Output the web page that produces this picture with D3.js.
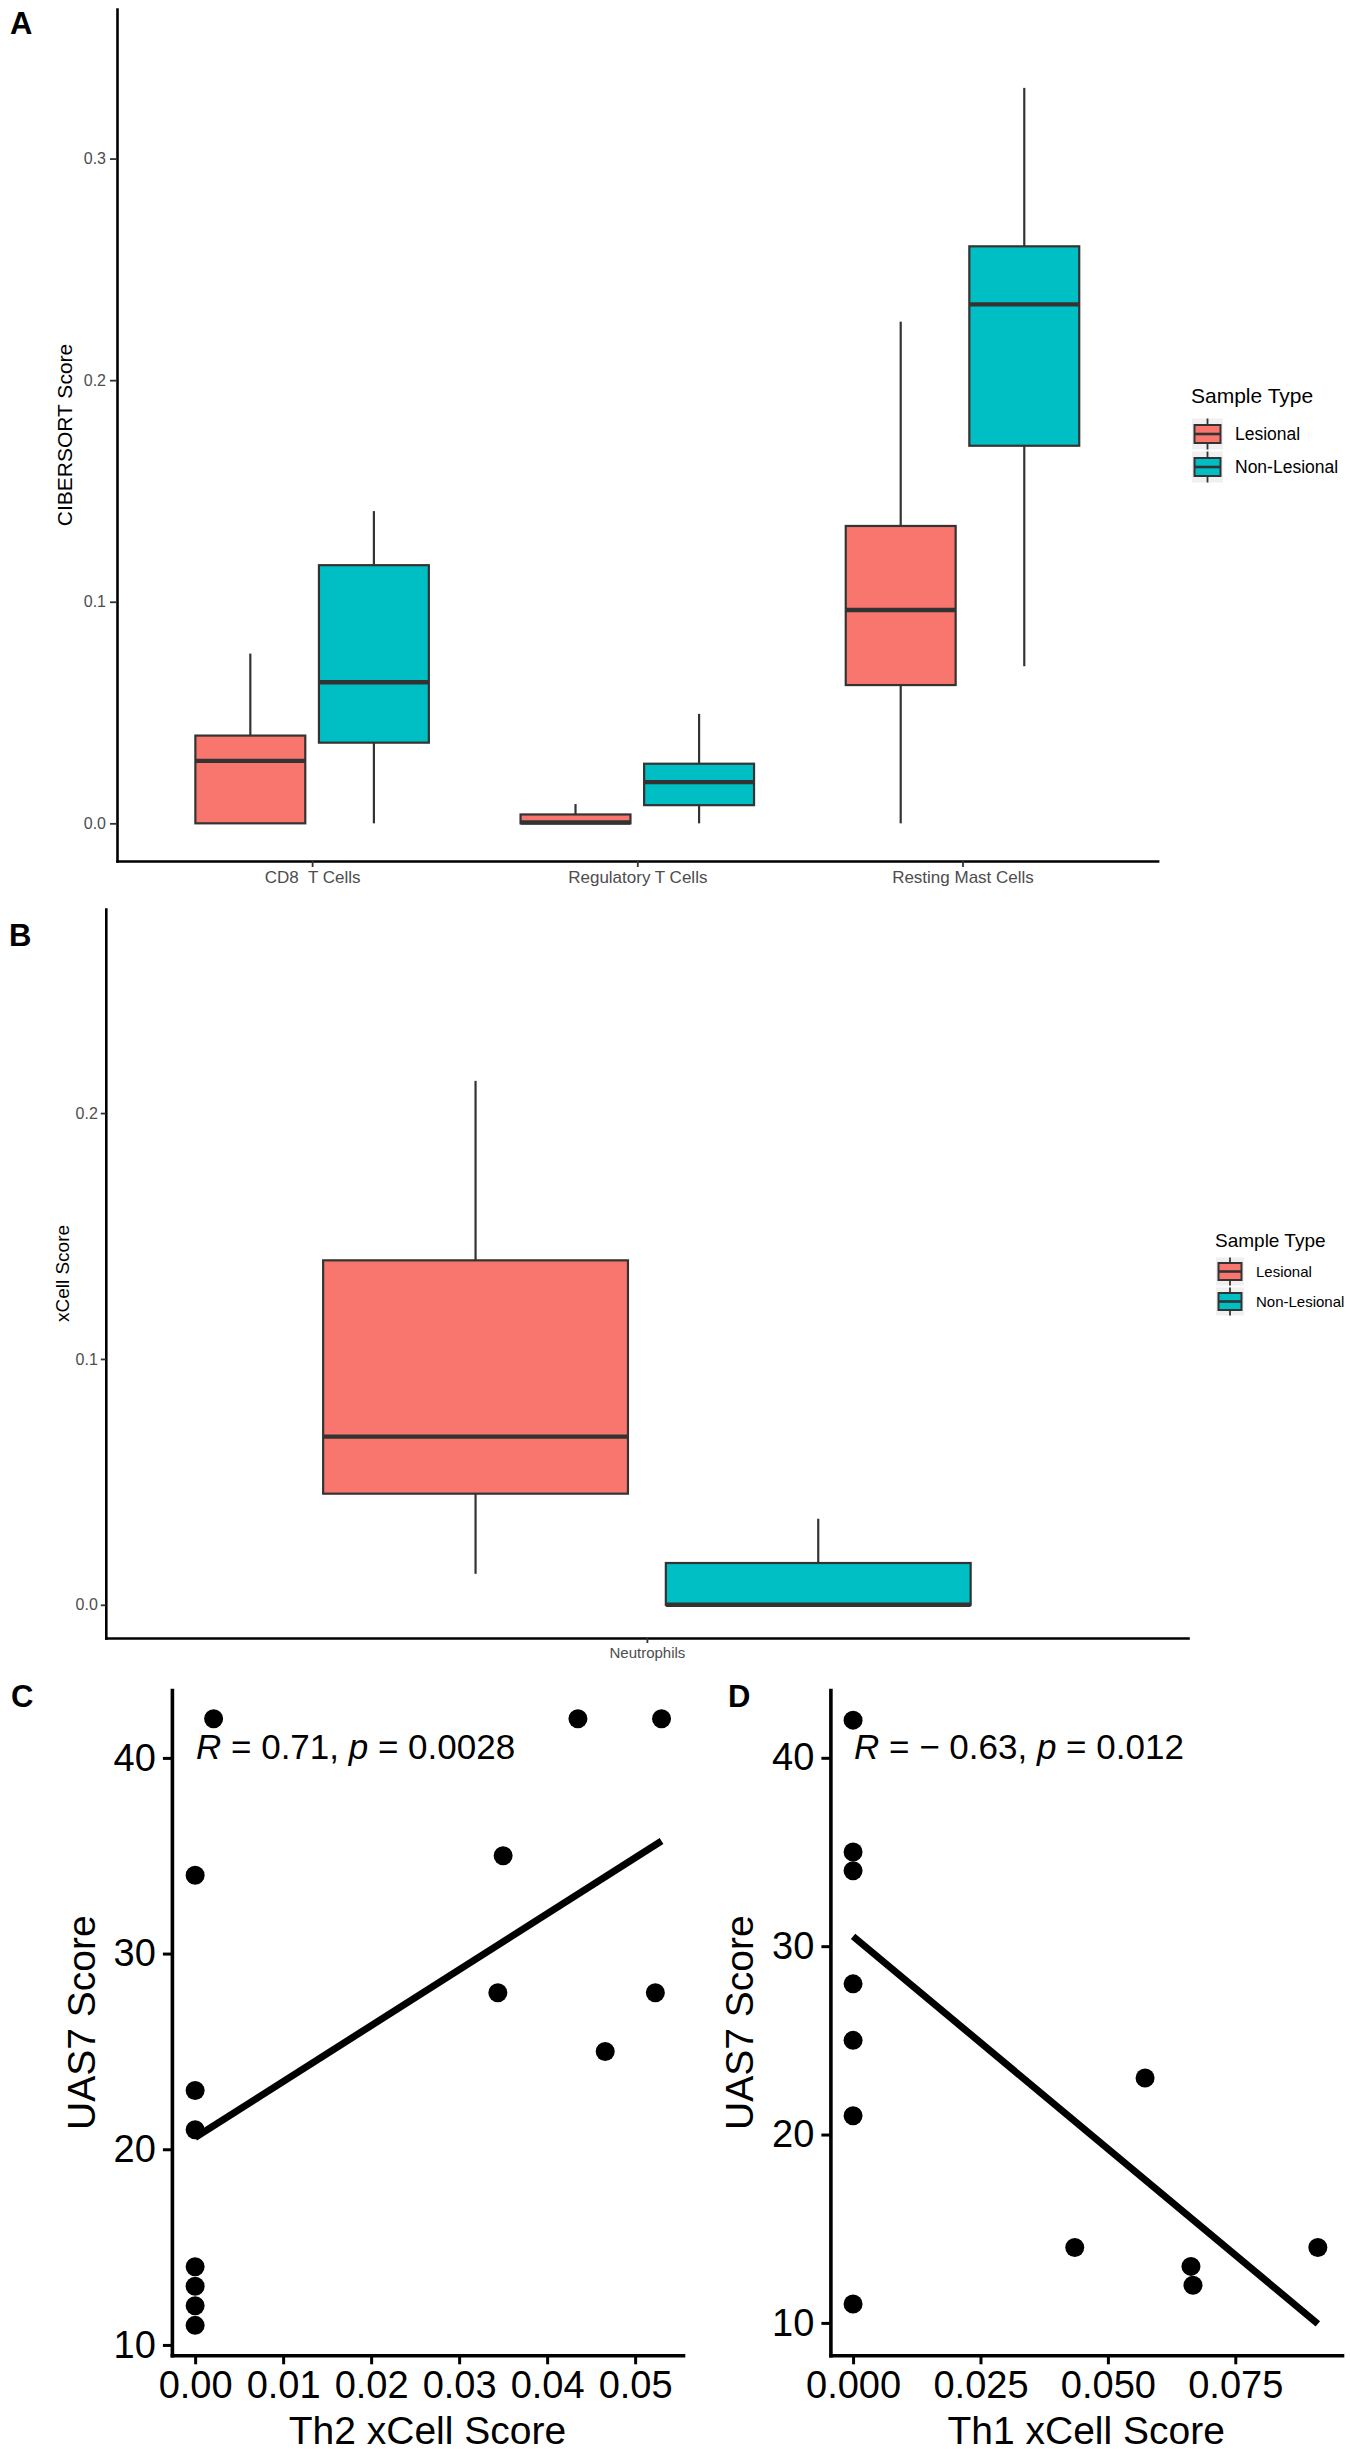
<!DOCTYPE html>
<html>
<head>
<meta charset="utf-8">
<script src="https://cdn.jsdelivr.net/npm/d3@7"></script>
<style>
  body { margin: 0; background: #fff; }
  text { font-family: "Liberation Sans", Arial, Helvetica, sans-serif; }
</style>
</head>
<body>
<div id="chart"></div>
<script>
// ---- data ----
const sampleTypes = ["Lesional", "Non-Lesional"];
const sampleColors = ["#F8766D", "#00BFC4"];

// panel A: CIBERSORT, box stats as [min, q1, median, q3, max]
const cellTypesA = ["CD8  T Cells", "Regulatory T Cells", "Resting Mast Cells"];
const lesionalA = [
  [0, 0, 0.0282, 0.0396, 0.0766],
  [0, 0, 0.0004, 0.0040, 0.0087],
  [0, 0.0624, 0.0963, 0.1342, 0.2264]
];
const nonLesionalA = [
  [0, 0.0364, 0.0637, 0.1165, 0.1409],
  [0, 0.0082, 0.0186, 0.0269, 0.0494],
  [0.0709, 0.1704, 0.2342, 0.2604, 0.3319]
];
const ticksA = [0, 0.1, 0.2, 0.3];
const yDomainA = [-0.017, 0.3675];

// panel B: xCell neutrophils
const cellTypesB = ["Neutrophils"];
const lesionalB = [[0.0126, 0.0452, 0.0684, 0.1401, 0.2131]];
const nonLesionalB = [[0, 0, 0, 0.0170, 0.0350]];
const ticksB = [0, 0.1, 0.2];
const yDomainB = [-0.0135, 0.283];

// panel C: Th2 xCell score vs UAS7
const th2Score = [0.0021, 0.0435, 0.0530, 0, 0.0350, 0.0344, 0.0523, 0.0466, 0, 0, 0, 0, 0, 0];
const th2Uas7 = [42, 42, 42, 34, 35, 28, 28, 25, 23, 21, 14, 13, 12, 11];
const th2Fit = [[0, 20.6], [0.053, 35.75]];
const ticksCx = [0, 0.01, 0.02, 0.03, 0.04, 0.05];
const xDomainC = [-0.00264, 0.05544];
const yDomainC = [9.47, 43.47];

// panel D: Th1 xCell score vs UAS7
const th1Score = [0, 0, 0, 0, 0, 0, 0, 0.0573, 0.0435, 0.0663, 0.0667, 0.0912];
const th1Uas7 = [42, 35, 34, 28, 25, 21, 11, 23, 14, 13, 12, 14];
const th1Fit = [[0, 30.52], [0.0912, 9.95]];
const ticksDx = [0, 0.025, 0.05, 0.075];
const xDomainD = [-0.00445, 0.09594];
const yDomainD = [8.28, 43.6];

const ticksUas7 = [10, 20, 30, 40];

// ---- drawing ----
const svg = d3.select("#chart").append("svg")
  .attr("width", 1350).attr("height", 2456);

function styleAxis(g, o) {
  g.select(".domain").attr("stroke", "#000").attr("stroke-width", o.axisW)
    .attr("stroke-linecap", "square");
  g.selectAll(".tick line").attr("stroke", o.tickColor).attr("stroke-width", o.tickW);
  g.selectAll(".tick text").attr("fill", o.textColor)
    .style("font-size", o.fontSize + "px");
}

function panelLabel(txt, x, y) {
  svg.append("text").attr("x", x).attr("y", y).text(txt)
    .style("font-size", "31px").style("font-weight", "bold");
}

function drawBoxPanel(p) {
  const x = d3.scalePoint().domain(p.cats).range([p.left, p.right]).padding(0.6);
  const step = x.step();
  const y = d3.scaleLinear().domain(p.yDomain).range([p.bottom, p.top]);
  const g = svg.append("g");

  [p.groupA, p.groupB].forEach(function(stats, gi) {
    stats.forEach(function(s, i) {
      const cx = x(p.cats[i]) + (gi === 0 ? -0.19 : 0.19) * step;
      const hw = 0.169 * step;
      g.append("line").attr("x1", cx).attr("x2", cx)
        .attr("y1", y(s[3])).attr("y2", y(s[4]))
        .attr("stroke", "#333").attr("stroke-width", 2.2);
      g.append("line").attr("x1", cx).attr("x2", cx)
        .attr("y1", y(s[1])).attr("y2", y(s[0]))
        .attr("stroke", "#333").attr("stroke-width", 2.2);
      g.append("rect").attr("x", cx - hw).attr("width", 2 * hw)
        .attr("y", y(s[3])).attr("height", Math.max(0, y(s[1]) - y(s[3])))
        .attr("fill", sampleColors[gi]).attr("stroke", "#333").attr("stroke-width", 2.2);
      g.append("line").attr("x1", cx - hw).attr("x2", cx + hw)
        .attr("y1", y(s[2])).attr("y2", y(s[2]))
        .attr("stroke", "#333").attr("stroke-width", 4.4);
    });
  });

  const ya = svg.append("g").attr("transform", "translate(" + p.left + ",0)")
    .call(d3.axisLeft(y).tickValues(p.ticks).tickFormat(d3.format(".1f"))
      .tickSize(p.yTick).tickSizeOuter(0).tickPadding(p.yPad));
  styleAxis(ya, { axisW: 2.6, tickColor: "#333", tickW: 1.8, textColor: "#4D4D4D", fontSize: 16 });

  const xa = svg.append("g").attr("transform", "translate(0," + p.bottom + ")")
    .call(d3.axisBottom(x).tickSize(p.xTick).tickSizeOuter(0).tickPadding(4));
  styleAxis(xa, { axisW: 2.6, tickColor: "#333", tickW: 1.8, textColor: "#4D4D4D", fontSize: p.xFont });
  xa.selectAll(".tick text").style("white-space", "pre");

  svg.append("text")
    .attr("transform", "translate(" + p.yTitleX + "," + (p.top + p.bottom) / 2 + ") rotate(-90)")
    .attr("text-anchor", "middle").text(p.yTitle)
    .style("font-size", p.yTitleFont + "px");

  // legend
  const lg = p.legend;
  svg.append("text").attr("x", lg.x).attr("y", lg.titleY).text("Sample Type")
    .style("font-size", lg.titleFont + "px");
  sampleTypes.forEach(function(name, i) {
    const cy = lg.firstY + i * lg.gap;
    const kx = lg.x + 1;
    svg.append("rect").attr("x", kx).attr("y", cy - lg.key / 2)
      .attr("width", lg.key).attr("height", lg.key).attr("fill", "#F0F0F0");
    svg.append("line").attr("x1", kx + lg.key / 2).attr("x2", kx + lg.key / 2)
      .attr("y1", cy - lg.key / 2).attr("y2", cy + lg.key / 2)
      .attr("stroke", "#333").attr("stroke-width", 1.8);
    svg.append("rect").attr("x", kx + 2.5).attr("y", cy - lg.box / 2)
      .attr("width", lg.key - 5).attr("height", lg.box)
      .attr("fill", sampleColors[i]).attr("stroke", "#333").attr("stroke-width", 2);
    svg.append("line").attr("x1", kx + 2.5).attr("x2", kx + lg.key - 2.5)
      .attr("y1", cy).attr("y2", cy).attr("stroke", "#333").attr("stroke-width", 2.6);
    svg.append("text").attr("x", lg.x + lg.key + 13).attr("y", cy)
      .attr("dy", "0.36em").text(name).style("font-size", lg.labelFont + "px");
  });
}

function drawScatter(p) {
  const x = d3.scaleLinear().domain(p.xDomain).range([p.left, p.right]);
  const y = d3.scaleLinear().domain(p.yDomain).range([p.bottom, p.top]);
  const g = svg.append("g");

  g.append("path")
    .attr("d", d3.line().x(function(d) { return x(d[0]); }).y(function(d) { return y(d[1]); })(p.fit))
    .attr("stroke", "#000").attr("stroke-width", 7).attr("fill", "none");

  g.selectAll("circle").data(p.xs).enter().append("circle")
    .attr("cx", function(d) { return x(d); })
    .attr("cy", function(d, i) { return y(p.ys[i]); })
    .attr("r", 9.5).attr("fill", "#000");

  const ya = svg.append("g").attr("transform", "translate(" + p.left + ",0)")
    .call(d3.axisLeft(y).tickValues(ticksUas7).tickSize(9).tickSizeOuter(0).tickPadding(7));
  styleAxis(ya, { axisW: 3.6, tickColor: "#000", tickW: 3, textColor: "#000", fontSize: 38 });

  const xa = svg.append("g").attr("transform", "translate(0," + p.bottom + ")")
    .call(d3.axisBottom(x).tickValues(p.xTicks).tickFormat(d3.format(p.xFormat))
      .tickSize(9).tickSizeOuter(0).tickPadding(7));
  styleAxis(xa, { axisW: 3.6, tickColor: "#000", tickW: 3, textColor: "#000", fontSize: 38 });

  svg.append("text").attr("x", (p.left + p.right) / 2).attr("y", 2444)
    .attr("text-anchor", "middle").text(p.xTitle).style("font-size", "39px");
  svg.append("text")
    .attr("transform", "translate(" + p.yTitleX + "," + (p.top + p.bottom) / 2 + ") rotate(-90)")
    .attr("text-anchor", "middle").text("UAS7 Score").style("font-size", "39px");

  const t = svg.append("text").attr("x", p.annX).attr("y", 1759).style("font-size", "35px");
  t.append("tspan").style("font-style", "italic").text("R");
  t.append("tspan").text(" = " + p.rText + ", ");
  t.append("tspan").style("font-style", "italic").text("p");
  t.append("tspan").text(" = " + p.pText);
}

drawBoxPanel({
  cats: cellTypesA, groupA: lesionalA, groupB: nonLesionalA,
  ticks: ticksA, yDomain: yDomainA,
  left: 117, right: 1157.6, top: 9, bottom: 861,
  yTick: 7, yPad: 4, xTick: 6, xFont: 17,
  yTitle: "CIBERSORT Score", yTitleX: 72, yTitleFont: 21,
  legend: { x: 1191, titleY: 403, titleFont: 21, firstY: 434, gap: 33, key: 31, box: 18, labelFont: 17.5 }
});
panelLabel("A", 10, 34);

drawBoxPanel({
  cats: cellTypesB, groupA: lesionalB, groupB: nonLesionalB,
  ticks: ticksB, yDomain: yDomainB,
  left: 105.8, right: 1188, top: 909, bottom: 1638,
  yTick: 5, yPad: 3, xTick: 5, xFont: 15,
  yTitle: "xCell Score", yTitleX: 69, yTitleFont: 19,
  legend: { x: 1215, titleY: 1247, titleFont: 19, firstY: 1271.5, gap: 30, key: 28, box: 17, labelFont: 15 }
});
panelLabel("B", 9, 946);

drawScatter({
  xs: th2Score, ys: th2Uas7, fit: th2Fit,
  xDomain: xDomainC, yDomain: yDomainC, xTicks: ticksCx, xFormat: ".2f",
  left: 171.9, right: 683, top: 1690, bottom: 2355.3,
  xTitle: "Th2 xCell Score", yTitleX: 94.6,
  annX: 196, rText: "0.71", pText: "0.0028"
});
panelLabel("C", 11, 1707);

drawScatter({
  xs: th1Score, ys: th1Uas7, fit: th1Fit,
  xDomain: xDomainD, yDomain: yDomainD, xTicks: ticksDx, xFormat: ".3f",
  left: 830.4, right: 1342, top: 1690, bottom: 2355.3,
  xTitle: "Th1 xCell Score", yTitleX: 752.7,
  annX: 854, rText: "\u2212 0.63", pText: "0.012"
});
panelLabel("D", 728, 1707);
</script>
</body>
</html>
